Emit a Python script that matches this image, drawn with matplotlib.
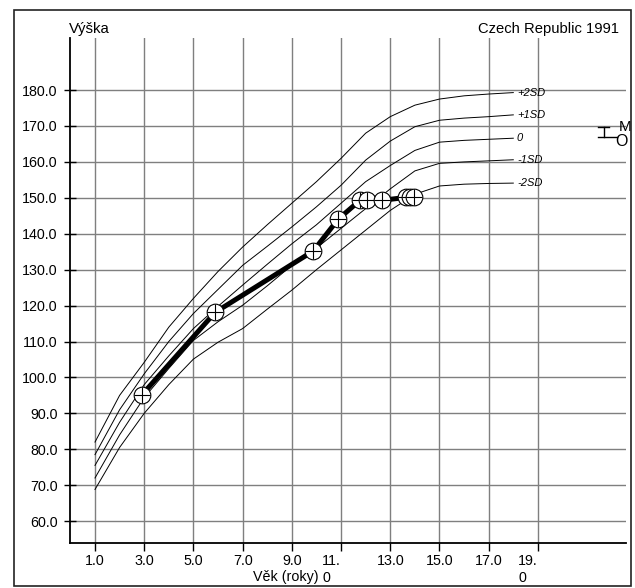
import numpy as np
import matplotlib
matplotlib.use('Agg')
import matplotlib.pyplot as plt
from matplotlib.patches import Rectangle

plt.rcParams['font.family'] = ['Liberation Sans', 'DejaVu Sans']

# referencni krivky (vyska, divky, CZ 1991)
ages_ref = [1, 2, 3, 4, 5, 6, 7, 8, 9, 10, 11, 12, 13, 14, 15, 16, 17, 18]
sd_plus2 = [82.0, 95.0, 104.2, 114.0, 122.0, 129.5, 136.3, 142.5, 148.5, 154.5,
            161.0, 168.0, 172.6, 175.8, 177.5, 178.4, 178.9, 179.3]
sd_plus1 = [78.5, 91.0, 101.0, 110.0, 117.8, 124.5, 131.2, 136.5, 141.9, 147.5,
            153.5, 160.5, 165.8, 169.8, 171.6, 172.2, 172.6, 173.1]
sd_zero = [75.5, 87.5, 98.0, 106.0, 113.6, 119.8, 125.7, 131.5, 137.2, 142.5,
           148.5, 154.5, 159.0, 163.2, 165.5, 166.0, 166.3, 166.6]
sd_minus1 = [72.0, 84.0, 94.4, 102.5, 110.3, 115.5, 120.1, 125.5, 131.2, 136.0,
             141.5, 147.0, 152.5, 157.5, 159.6, 160.0, 160.3, 160.6]
sd_minus2 = [68.8, 80.5, 90.0, 98.0, 105.1, 109.8, 113.6, 119.0, 124.3, 130.0,
             135.5, 141.0, 146.5, 151.0, 153.3, 153.8, 154.0, 154.1]
sd_labels = ['+2SD', '+1SD', '0', '-1SD', '-2SD']

# mereni pacienta
pat_age = [2.90, 5.88, 9.87, 10.89, 11.77, 12.06, 12.65, 13.62, 13.80, 13.98]
pat_height = [95.1, 118.1, 135.2, 144.1, 149.3, 149.3, 149.3, 150.1, 150.1, 150.1]

# cilova vyska (M / O)
target_age = 21.67
target_top = 169.8
target_bottom = 167.0

yticks = [60, 70, 80, 90, 100, 110, 120, 130, 140, 150, 160, 170, 180]
ytick_labels = ['60.0', '70.0', '80.0', '90.0', '100.0', '110.0', '120.0',
                '130.0', '140.0', '150.0', '160.0', '170.0', '180.0']
xticks = [1, 3, 5, 7, 9, 11, 13, 15, 17, 19]
xtick_labels = ['1.0', '3.0', '5.0', '7.0', '9.0', '11.\n0', '13.0', '15.0',
                '17.0', '19.\n0']

W, H = 635, 588
fig = plt.figure(figsize=(W / 100, H / 100), dpi=100)
ax = fig.add_axes([70 / W, 1 - 543 / H, 556 / W, 505 / H])
ax.set_xlim(-0.016, 22.58)
ax.set_ylim(53.9, 194.5)

# mrizka
for y in yticks:
    ax.axhline(y, color='#7f7f7f', lw=1.0, zorder=1)
for x in xticks:
    ax.axvline(x, color='#7f7f7f', lw=1.0, zorder=1)

for s in ['top', 'right']:
    ax.spines[s].set_visible(False)
for s in ['left', 'bottom']:
    ax.spines[s].set_linewidth(1.3)
    ax.spines[s].set_color('black')

ax.set_yticks(yticks)
ax.set_yticklabels(ytick_labels)
ax.set_xticks(xticks)
ax.set_xticklabels(xtick_labels)
ax.tick_params(axis='y', direction='inout', length=8, width=1, pad=5, labelsize=10.3)
ax.tick_params(axis='x', direction='out', length=6, width=1, pad=2, labelsize=10.3)
for lbl in ax.get_xticklabels():
    if '\n' in lbl.get_text():
        lbl.set_horizontalalignment('right')
        lbl.set_multialignment('left')
        lbl.set_linespacing(1.3)

# SD krivky
for vals, lab in zip([sd_plus2, sd_plus1, sd_zero, sd_minus1, sd_minus2], sd_labels):
    ax.plot(ages_ref, vals, color='black', lw=0.7, zorder=2)
    ax.text(ages_ref[-1] + 0.15, vals[-1], lab, fontsize=8, style='italic',
            va='center', ha='left', zorder=2)

# pacient
ax.plot(pat_age, pat_height, color='black', lw=3.6, zorder=3)
for i, (a, h) in enumerate(zip(pat_age, pat_height)):
    ax.plot(a, h, marker='o', ms=12, mfc='white', mec='black', mew=0.8,
            zorder=4 + 2 * i)
    ax.plot(a, h, marker='+', ms=12, mec='black', mew=0.8, zorder=5 + 2 * i)

# cilova vyska
ax.plot([target_age - 0.23, target_age + 0.22], [target_top, target_top],
        color='black', lw=1.0, clip_on=False)
ax.plot([target_age, target_age], [target_top, target_bottom],
        color='black', lw=1.0, clip_on=False)
ax.plot([target_age - 0.23, target_age + 0.54], [target_bottom, target_bottom],
        color='black', lw=1.0, clip_on=False)
ax.text(target_age + 0.62, target_top, 'M', fontsize=11, ha='left', va='center',
        clip_on=False)
ax.text(target_age + 0.46, target_bottom - 1.2, 'O', fontsize=11.5, ha='left',
        va='center', clip_on=False)

ax.set_xlabel('Věk (roky)', fontsize=10.3)
ax.xaxis.set_label_coords((286 - 70) / 556, -(577 - 543) / 505)
ax.xaxis.label.set_verticalalignment('center')

fig.text(69.3 / W, 1 - 33.5 / H, 'Výška', ha='left', va='baseline', fontsize=10.8)
fig.text(619 / W, 1 - 33.3 / H, 'Czech Republic 1991', ha='right', va='baseline',
         fontsize=10.6)

fig.patches.append(Rectangle((14 / W, 1 - 586 / H), (631 - 14) / W, (586 - 10) / H,
                             transform=fig.transFigure, fill=False, lw=1.2,
                             ec='#222222'))

fig.savefig('out.png', dpi=100)
